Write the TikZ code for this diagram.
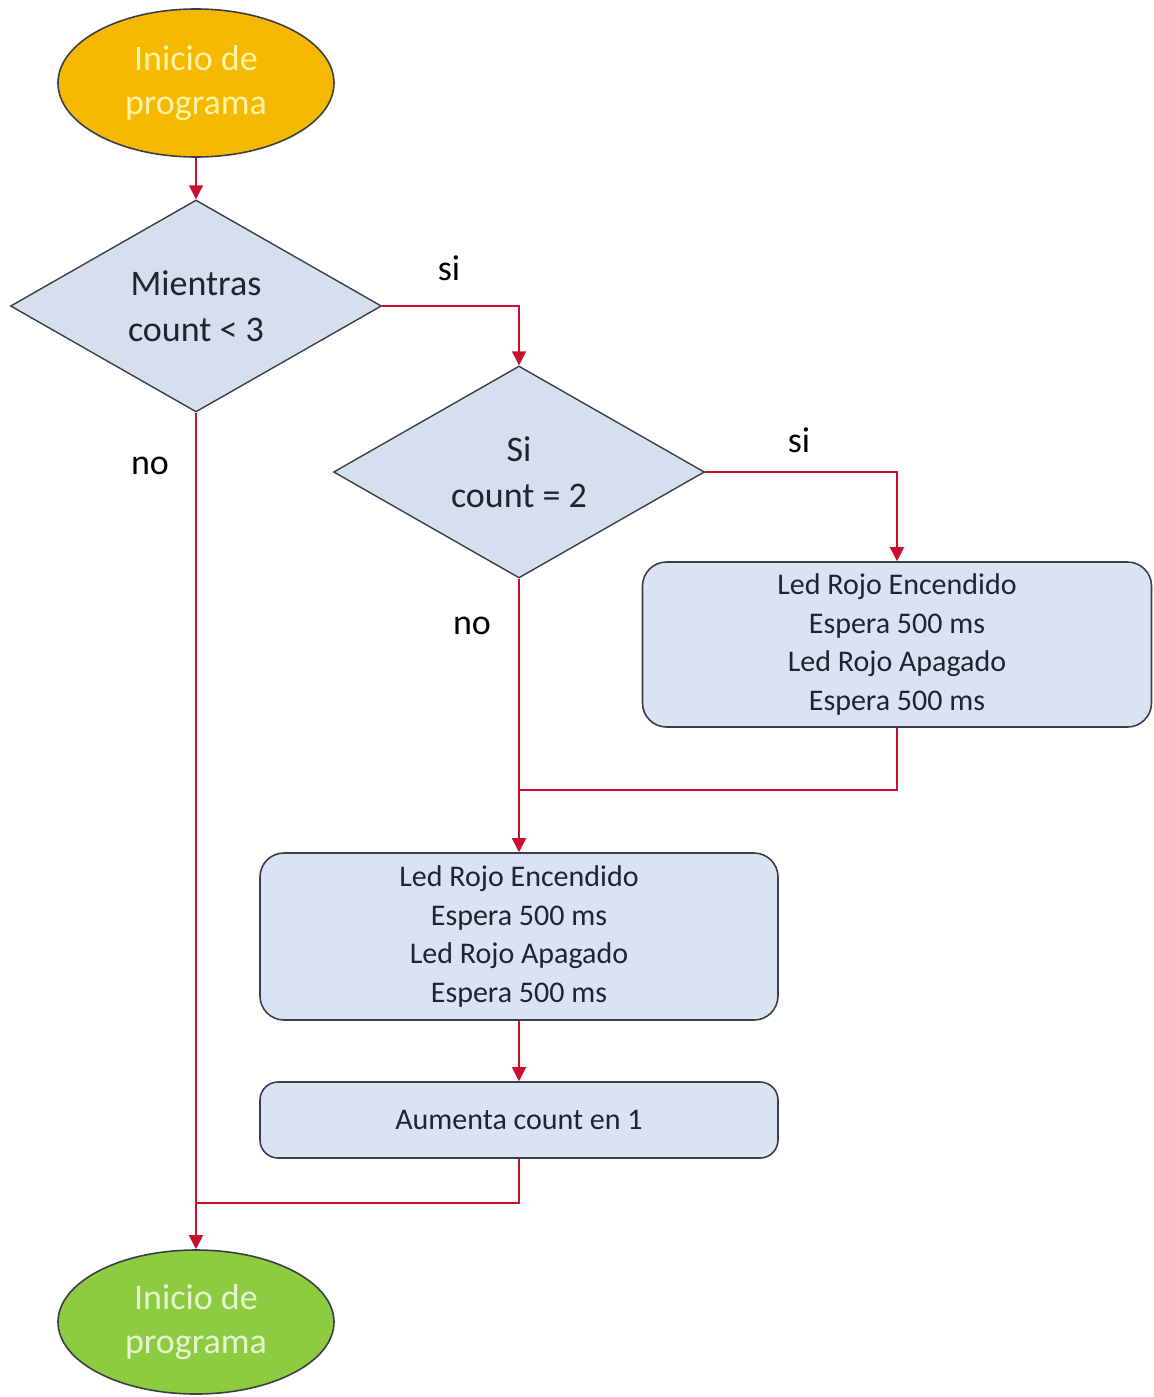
\documentclass[tikz,border=0pt]{standalone}
\usepackage{fontspec}
\setmainfont{Carlito}
\usetikzlibrary{shapes.geometric,arrows.meta}
\definecolor{conn}{HTML}{C8102E}
\definecolor{boxfill}{HTML}{DAE3F3}
\definecolor{diafill}{HTML}{D6DFEE}
\definecolor{edge}{HTML}{3A3F48}
\definecolor{orangefill}{HTML}{F7B900}
\definecolor{orangetext}{HTML}{FFF3A8}
\definecolor{greenfill}{HTML}{8DCB41}
\definecolor{greentext}{HTML}{E6F5CF}
\definecolor{txt}{HTML}{1E2530}
\tikzset{
  term/.style={ellipse, draw=edge, line width=0.8pt, minimum width=138pt, minimum height=74pt, inner sep=0pt, align=center, font=\fontsize{18}{22}\selectfont},
  decision/.style={diamond, draw=edge, line width=0.7pt, fill=diafill, minimum width=185.5pt, minimum height=106pt, inner sep=0pt, align=center, text=txt, font=\fontsize{18}{23}\selectfont},
  procbox/.style={rectangle, rounded corners=12pt, draw=edge, line width=0.8pt, fill=boxfill, inner sep=0pt, align=center, text=txt, font=\fontsize{15}{19.2}\selectfont},
  flow/.style={draw=conn, line width=0.9pt},
  flowarrow/.style={flow, -{Triangle[length=7pt,width=7pt]}},
  lbl/.style={text=black, font=\fontsize{18}{22}\selectfont, inner sep=0pt}
}
\begin{document}
\begin{tikzpicture}[x=0.5pt,y=-0.5pt]
\useasboundingbox[fill=white] (0,0) rectangle (1153,1397);
\node[term, fill=orangefill, text=orangetext] (start) at (196,83) {Inicio de\\programa};
\node[decision] (d1) at (196,306) {Mientras\\count < 3};
\node[decision] (d2) at (519,472) {Si\\count = 2};
\node[procbox, minimum width=254.5pt, minimum height=82.5pt] (b1) at (897,644.5) {Led Rojo Encendido\\Espera 500 ms\\Led Rojo Apagado\\Espera 500 ms};
\node[procbox, minimum width=259pt, minimum height=83.5pt] (b2) at (519,936.5) {Led Rojo Encendido\\Espera 500 ms\\Led Rojo Apagado\\Espera 500 ms};
\node[procbox, rounded corners=9pt, minimum width=259pt, minimum height=38pt] (b3) at (519,1120) {Aumenta count en 1};
\node[term, fill=greenfill, text=greentext, minimum height=72pt] (end) at (196,1322) {Inicio de\\programa};

\coordinate (j1) at (519,790);
\coordinate (j2) at (196,1203);

\draw[flowarrow] (start) -- (d1);
\draw[flowarrow] (d1.east) -| (d2.north);
\draw[flowarrow] (d2.east) -| (b1.north);
\draw[flowarrow] (d2.south) -- (b2.north);
\draw[flow] (b1.south) |- (j1);
\draw[flowarrow] (b2) -- (b3);
\draw[flow] (b3.south) |- (j2);
\draw[flowarrow] (d1.south) -- (end.north);

\node[lbl] (si1) at (449,268) {si};
\node[lbl] (si2) at (799,440) {si};
\node[lbl] (no1) at (150,466) {no};
\node[lbl] (no2) at (472,626) {no};
\end{tikzpicture}
\end{document}
